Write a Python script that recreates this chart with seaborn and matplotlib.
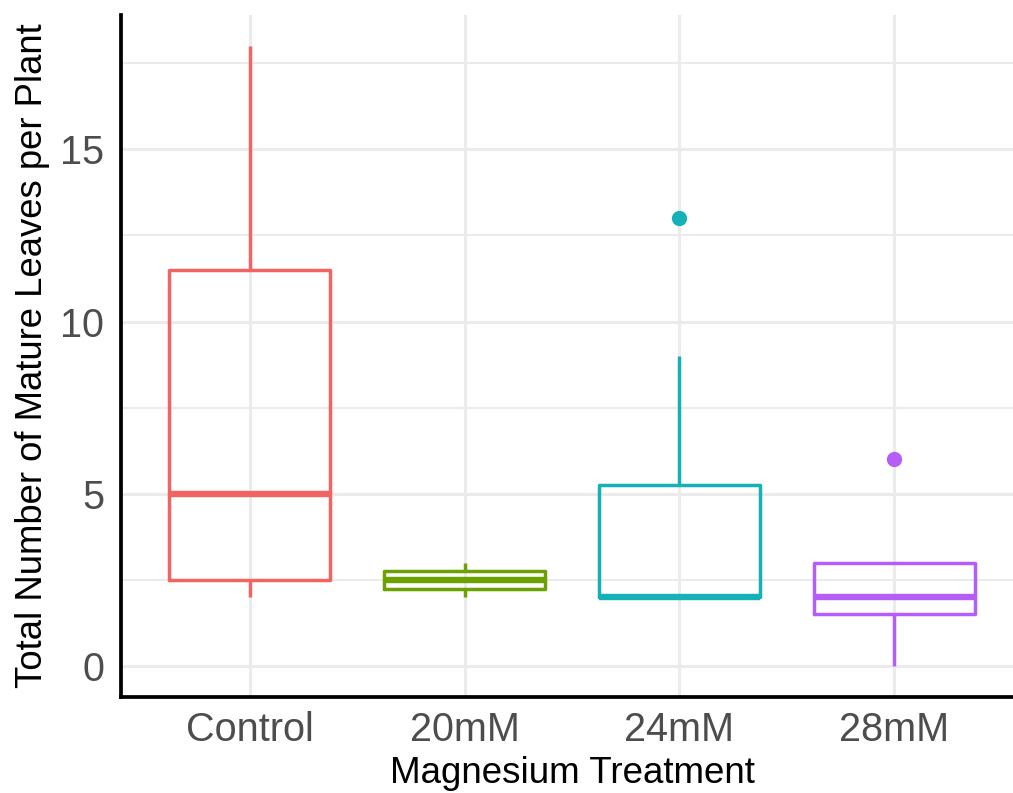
import numpy as np
import pandas as pd
import matplotlib
matplotlib.use("Agg")
import matplotlib.pyplot as plt
import seaborn as sns
from matplotlib.ticker import MultipleLocator

# Data (estimated observations that reproduce the box statistics in the reference)
treatments = ["Control", "20mM", "24mM", "28mM"]
control_leaves = [2, 2, 3, 5, 11, 12, 18]
mg20_leaves = [2, 3]
mg24_leaves = [2, 2, 2, 2, 2, 2, 3, 6, 9, 13]
mg28_leaves = [0, 1, 2, 2, 3, 3, 6]
colors = ["#F26461", "#6BA100", "#14B1B6", "#B55EF7"]

groups = [control_leaves, mg20_leaves, mg24_leaves, mg28_leaves]
df = pd.DataFrame({
    "Magnesium Treatment": np.concatenate([[t] * len(g) for t, g in zip(treatments, groups)]),
    "Leaves": np.concatenate(groups).astype(float),
})

sns.set_theme(style="white")
plt.rcParams["font.family"] = ["Liberation Sans", "DejaVu Sans"]

fig = plt.figure(figsize=(10.13, 7.93), dpi=100)
ax = fig.add_axes([121 / 1013, (793 - 697) / 793, (1023 - 121) / 1013, (697 - 15) / 793])

sns.boxplot(
    data=df, x="Magnesium Treatment", y="Leaves", hue="Magnesium Treatment",
    order=treatments, hue_order=treatments, palette=colors, fill=False,
    width=0.75, whis=1.5, linewidth=2.5, showcaps=False, legend=False,
    medianprops={"linewidth": 4.6},
    flierprops={"marker": "o", "markersize": 11},
    ax=ax, zorder=3,
)

for ln in ax.lines:
    if ln.get_marker() == "o":
        c = ln.get_markeredgecolor()
        ln.set_markerfacecolor(c)
        ln.set_markeredgewidth(0)

ax.set_xlim(-0.6, 3.6)
ax.set_ylim(-0.9, 18.9)
ax.yaxis.set_major_locator(MultipleLocator(5))
ax.yaxis.set_minor_locator(MultipleLocator(2.5))
ax.set_axisbelow(True)
ax.grid(True, which="major", axis="both", color="#EBEBEB", linewidth=2.2)
ax.grid(True, which="minor", axis="y", color="#EBEBEB", linewidth=1.4)

for s in ["top", "right"]:
    ax.spines[s].set_visible(False)
for s in ["left", "bottom"]:
    ax.spines[s].set_color("black")
    ax.spines[s].set_linewidth(2.7)

ax.tick_params(axis="both", which="both", length=0)
ax.tick_params(axis="x", labelsize=28.5, labelcolor="#4D4D4D", pad=10)
ax.tick_params(axis="y", labelsize=28.5, labelcolor="#4D4D4D", pad=12)

ax.set_xlabel("Magnesium Treatment", fontsize=26.5, color="black", labelpad=5)
ax.set_ylabel("Total Number of Mature Leaves per Plant", fontsize=26.3, color="black", labelpad=7)

fig.savefig("out.png", dpi=100)
